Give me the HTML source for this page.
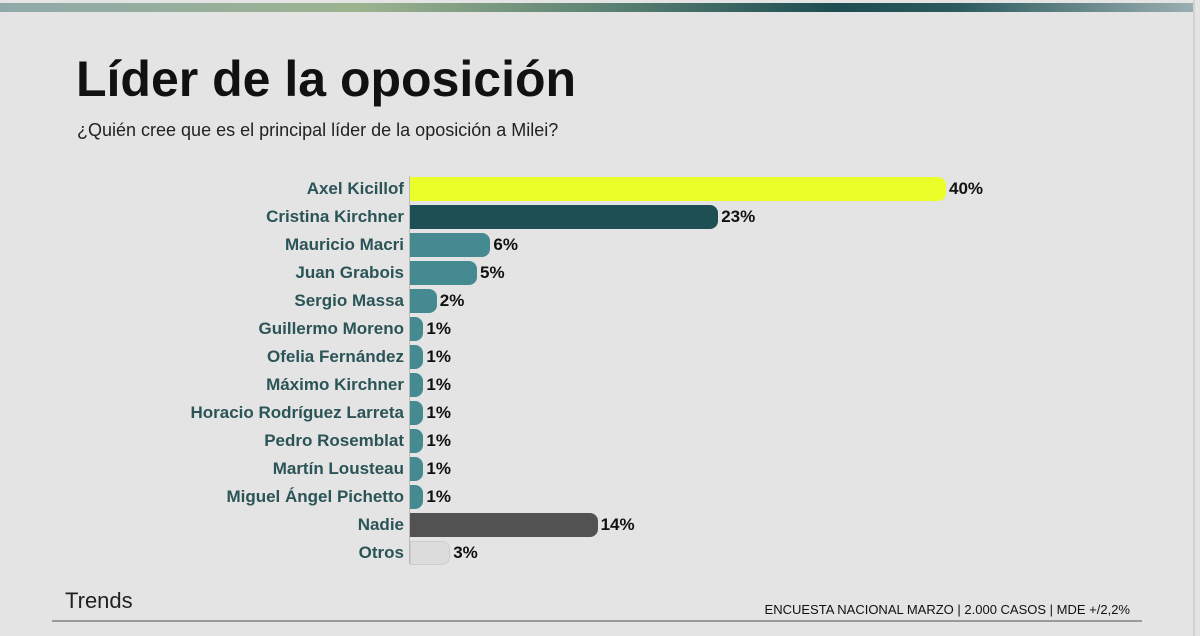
<!DOCTYPE html>
<html><head><meta charset="utf-8"><style>
body{margin:0;width:1200px;height:636px;background:#e4e4e4;font-family:"Liberation Sans",sans-serif;position:relative;overflow:hidden}
.top{position:absolute;left:0;top:3px;width:1193px;height:9px;background:linear-gradient(90deg,#8fa9aa 0%,#9cb38f 30%,#5e8474 50%,#1d4c52 70%,#2a5a5e 80%,#9aaeb0 100%)}
.edge{position:absolute;left:1193px;top:0;width:2px;height:636px;background:#d2d2d2}
h1{position:absolute;left:76px;top:50px;margin:0;font-size:50px;font-weight:bold;color:#111}
.sub{position:absolute;left:77px;top:120px;font-size:18px;color:#222}
.axis{position:absolute;left:409px;top:176px;width:1px;height:388px;background:#bbb}
.lab{position:absolute;left:182px;width:222px;direction:rtl;text-align:right;font-size:17px;font-weight:bold;color:#2b5457;line-height:24px;white-space:nowrap;overflow:hidden}
.lab span{direction:ltr;unicode-bidi:embed}
.bar{position:absolute;left:410px;height:24px;border-radius:0 8px 8px 0}
.val{position:absolute;font-size:17px;font-weight:bold;color:#111;line-height:24px}
.trends{position:absolute;left:65px;top:588px;font-size:22px;color:#222}
.foot{position:absolute;right:70px;top:602px;font-size:13px;color:#111}
.line{position:absolute;left:52px;top:620px;width:1090px;height:2px;background:#9a9a9a}
</style></head><body>
<div class="top"></div><div class="edge"></div>
<h1>Líder de la oposición</h1>
<div class="sub">¿Quién cree que es el principal líder de la oposición a Milei?</div>
<div class="axis"></div>
<div id="c"></div>
<div class="trends">Trends</div>
<div class="foot">ENCUESTA NACIONAL MARZO | 2.000 CASOS | MDE +/2,2%</div>
<div class="line"></div>
<script>
var d=[["Axel Kicillof",40,"#eaff2a"],["Cristina Kirchner",23,"#1d4f55"],["Mauricio Macri",6,"#458a90"],["Juan Grabois",5,"#458a90"],["Sergio Massa",2,"#458a90"],["Guillermo Moreno",1,"#458a90"],["Ofelia Fernández",1,"#458a90"],["Máximo Kirchner",1,"#458a90"],["Horacio Rodríguez Larreta",1,"#458a90"],["Pedro Rosemblat",1,"#458a90"],["Martín Lousteau",1,"#458a90"],["Miguel Ángel Pichetto",1,"#458a90"],["Nadie",14,"#525252"],["Otros",3,"#dcdcdc"]];
var h="";d.forEach(function(r,i){var y=177+i*28,w=r[1]*13.4;
h+='<div class="lab" style="top:'+y+'px"><span>'+r[0]+'</span></div>';
h+='<div class="bar" style="top:'+y+'px;width:'+w+'px;background:'+r[2]+(i==13?';border:1px solid #ccc;box-sizing:border-box':'')+'"></div>';
h+='<div class="val" style="top:'+y+'px;left:'+(413+w)+'px">'+r[1]+'%</div>';});
document.getElementById("c").innerHTML=h;
</script>
</body></html>
